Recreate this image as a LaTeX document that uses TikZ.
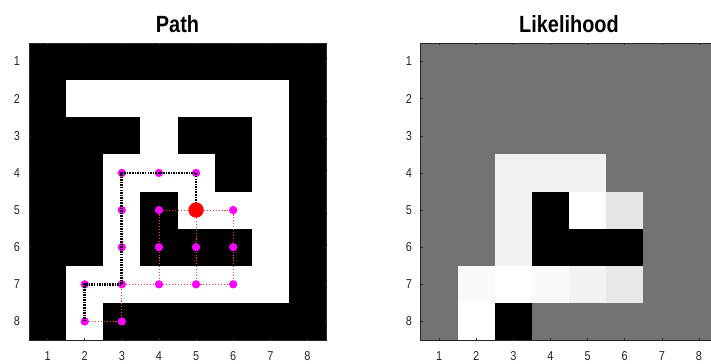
\documentclass[tikz,border=0pt]{standalone}
\usepackage{fontspec}
\usepackage{xcolor}
\newfontfamily\plotfont[FakeStretch=0.85]{Liberation Sans}
\definecolor{framegray}{RGB}{38,38,38}
\definecolor{likegray}{RGB}{115,115,115}
\definecolor{statemagenta}{RGB}{255,0,255}
\definecolor{linkred}{RGB}{255,60,60}

\begin{document}
\begin{tikzpicture}[x=0.03cm, y=-0.03cm,
    cell/.style={x=1.11375cm, y=-1.11375cm},
    frame/.style={draw=framegray, line width=0.7pt},
    tick/.style={draw=framegray, line width=0.5pt},
    ticklabel/.style={font={\plotfont\fontsize{11}{11}\selectfont}, text=framegray, inner sep=0pt},
    paneltitle/.style={font={\plotfont\bfseries\fontsize{20}{20}\selectfont}, inner sep=0pt},
    state/.style={circle, fill=statemagenta, minimum size=0.25cm, inner sep=0pt},
    robot/.style={circle, fill=red, minimum size=0.46cm, inner sep=0pt},
    link/.style={linkred, line width=0.55pt, dash pattern=on 0.9pt off 1.6pt},
    route/.style={black, line width=2.4pt, dash pattern=on 1.3pt off 0.9pt}]

      \useasboundingbox (0,0) rectangle (711,363);

      \node[paneltitle] (pathtitle) at (177.5,24.5) {Path};
      \node[paneltitle] (liketitle) at (569,24.5) {Likelihood};

      \begin{scope}[xshift=0.3131cm, yshift=-0.7331cm, cell]
        \fill[black] (0.5,0.5) rectangle (8.5,8.5);
        \foreach \r/\cols in {2/{2,3,4,5,6,7}, 3/{4,7}, 4/{3,4,5,7}, 5/{3,5,6,7}, 6/{3,7}, 7/{2,3,4,5,6,7}, 8/{2}}
          \foreach \c in \cols
            \fill[white] (\c-0.5,\r-0.5) rectangle (\c+0.5,\r+0.5);
        \draw[frame] (0.5,0.5) rectangle (8.5,8.5);
        \foreach \k in {1,...,8} {
          \draw[tick] (\k,8.5) -- ++(0,-0.06);
          \draw[tick] (\k,0.5) -- ++(0,0.06);
          \draw[tick] (0.5,\k) -- ++(0.06,0);
          \draw[tick] (8.5,\k) -- ++(-0.06,0);
          \node[ticklabel] (lcol\k) at (\k,8.93) {\k};
          \node[ticklabel] (lrow\k) at (0.177,\k) {\k};
        }

        \foreach \c/\r in {3/4, 4/4, 5/4, 3/5, 4/5, 6/5, 3/6, 4/6, 5/6, 6/6, 2/7, 3/7, 4/7, 5/7, 6/7, 2/8, 3/8}
          \node[state] (s\c\r) at (\c,\r) {};
        \coordinate (goal) at (5,5);

        \draw[route] (s28.center) -- (s27.center) -- (s37.center) -- (s36.center) -- (s35.center) -- (s34.center) -- (s44.center) -- (s54.center) -- (goal);

        \node[robot] (s55) at (goal) {};

        \foreach \a/\b in {s45/s55, s55/s65, s45/s46, s46/s47, s55/s56, s56/s57, s65/s66, s66/s67, s37/s47, s47/s57, s57/s67, s28/s38, s37/s38}
          \draw[link] (\a) -- (\b);
      \end{scope}

      \begin{scope}[xshift=12.058cm, yshift=-0.7331cm, cell]
        \fill[likegray] (0.5,0.5) rectangle (8.5,8.5);
        \foreach \c/\r/\v in {3/4/95, 4/4/95, 5/4/95, 3/5/95, 4/5/0, 5/5/100, 6/5/90, 3/6/95, 4/6/0, 5/6/0, 6/6/0, 2/7/98, 3/7/100, 4/7/98, 5/7/95, 6/7/91, 2/8/100, 3/8/0}
          \fill[white!\v!black] (\c-0.5,\r-0.5) rectangle (\c+0.5,\r+0.5);
        \draw[frame] (0.5,0.5) rectangle (8.5,8.5);
        \foreach \k in {1,...,8} {
          \draw[tick] (\k,8.5) -- ++(0,-0.06);
          \draw[tick] (\k,0.5) -- ++(0,0.06);
          \draw[tick] (0.5,\k) -- ++(0.06,0);
          \draw[tick] (8.5,\k) -- ++(-0.06,0);
          \node[ticklabel] (rcol\k) at (\k,8.93) {\k};
          \node[ticklabel] (rrow\k) at (0.19,\k) {\k};
        }
      \end{scope}
    \end{tikzpicture}
\end{document}
